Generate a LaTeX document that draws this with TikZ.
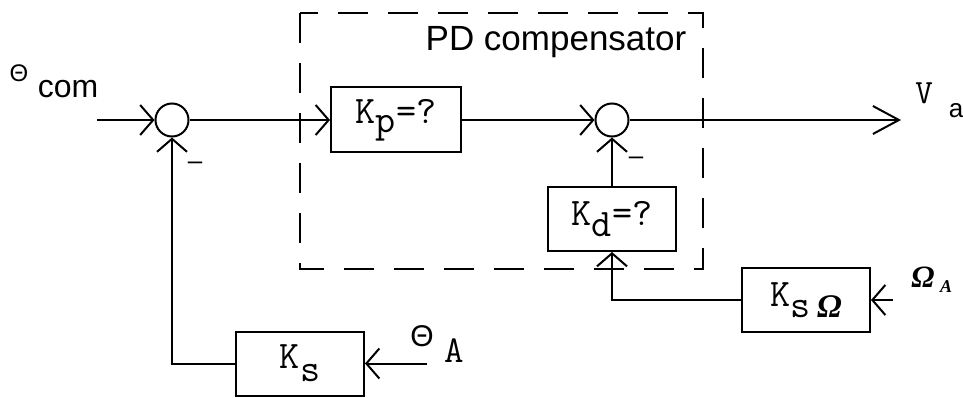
\documentclass[tikz,border=0pt]{standalone}
\usepackage{fontspec}
\setmainfont{Liberation Sans}
\newfontfamily\serifbi{Liberation Serif}
\usetikzlibrary{arrows.meta}
\begin{document}
\begin{tikzpicture}[x=1pt,y=-1pt,line width=2pt,
  blk/.style={draw, rectangle, minimum width=128pt, minimum height=64pt, inner sep=0pt,
              font=\fontsize{39}{39}\selectfont\ttfamily},
  sumc/.style={draw, circle, minimum size=33pt, inner sep=0pt},
  barb/.style={-{Straight Barb[length=13pt,width=30pt]}},
  outbarb/.style={-{Straight Barb[length=26pt,width=28pt]}},
  dbox/.style={dash pattern=on 30pt off 20pt},
  lbl/.style={inner sep=0pt, anchor=center},
  omf/.style={font=\fontsize{#1}{#1}\selectfont\serifbi\bfseries\itshape}]
\useasboundingbox (0,0) rectangle (963,398);

% dashed compensator boundary
\draw[dbox] (300,13) rectangle (703,269);
\node[lbl, font=\fontsize{35}{35}\selectfont] (pdlbl) at (556,42) {PD compensator};

% blocks
\node[sumc] (s1) at (172,120) {};
\node[sumc] (s2) at (612,120) {};
\node[blk, minimum width=130pt, minimum height=65pt] (kp) at (396,120) {K\raisebox{-9pt}{p}=?};
\node[blk] (kd) at (612,219) {K\raisebox{-11pt}{d}=?};
\node[blk] (ks) at (300,363.5) {K\raisebox{-13pt}{s}};
\node[blk] (ksw) at (806,300) {K\raisebox{-11pt}{s\,{\fontsize{33}{33}\selectfont\serifbi\bfseries\itshape Ω}}};

% free ends
\coordinate (in1) at (97,120);
\coordinate (out) at (901,120);
\coordinate (thA) at (427,363.5);
\coordinate (omA) at (893,300);

% connectors
\draw[barb] (in1) -- (s1);
\draw[barb] (s1) -- (kp);
\draw[barb] (kp) -- (s2);
\draw[outbarb] (s2) -- (out);
\draw[barb] (kd) -- (s2);
\draw[barb] (ksw.west) -| (kd.south);
\draw[barb] (thA) -- (ks);
\draw[barb] (ks.west) -| (s1.south);
\draw[barb] (omA) -- (ksw);

% signs
\node[lbl, font=\fontsize{26}{26}\selectfont] (m1) at (195,166) {–};
\node[lbl, font=\fontsize{26}{26}\selectfont] (m2) at (636,161) {–};

% signal labels
\node[lbl, font=\fontsize{24}{24}\selectfont] (thc) at (19,73) {Θ};
\node[lbl, font=\fontsize{32}{32}\selectfont] (com) at (68,89) {com};
\node[lbl, font=\fontsize{34}{34}\selectfont\ttfamily] (vV) at (924,93) {V};
\node[lbl, font=\fontsize{26}{26}\selectfont] (va) at (956,111) {a};
\node[lbl, font=\fontsize{30}{30}\selectfont] (tha) at (422,336) {Θ};
\node[lbl, font=\fontsize{38}{38}\selectfont\ttfamily] (thaA) at (454,351) {A};
\node[lbl, omf=31] (om) at (923,277) {Ω};
\node[lbl, omf=18] (omAl) at (946,287) {A};
\end{tikzpicture}
\end{document}
